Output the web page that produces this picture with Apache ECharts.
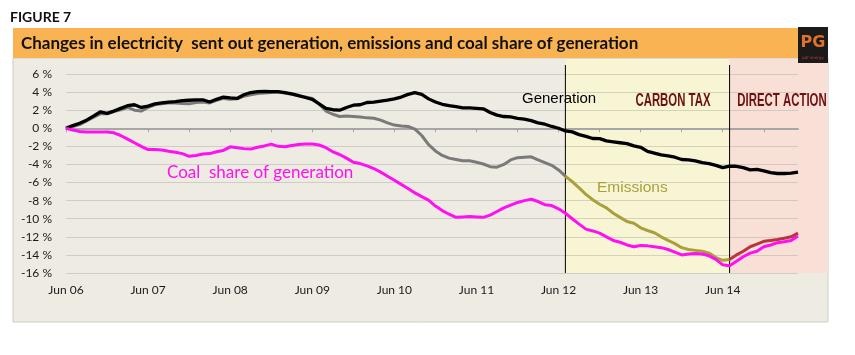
<!DOCTYPE html>
<html>
<head>
<meta charset="utf-8">
<script src="https://cdn.jsdelivr.net/npm/echarts@6/dist/echarts.min.js"></script>
<style>
html,body{margin:0;padding:0;background:#fff;}
#c{width:855px;height:355px;}
</style>
</head>
<body>
<div id="c"></div>
<script>
// ---- data (monthly, Jun 2006 .. May 2015), % change ----
var months = [];
var monNames = ['Jan','Feb','Mar','Apr','May','Jun','Jul','Aug','Sep','Oct','Nov','Dec'];
for (var k = 0; k < 108; k++) {
  var m = (5 + k) % 12, y = 6 + Math.floor((5 + k) / 12);
  months.push(monNames[m] + ' ' + (y < 10 ? '0' + y : '' + y));
}
var generation = [
  0, 0.3, 0.55, 0.9, 1.35, 1.8, 1.65, 1.9, 2.2, 2.5, 2.6, 2.3,
  2.45, 2.7, 2.8, 2.9, 2.95, 3.05, 3.1, 3.15, 3.15, 2.9, 3.2, 3.45,
  3.35, 3.3, 3.7, 3.95, 4.05, 4.07, 4.05, 4.05, 3.95, 3.8, 3.6, 3.4,
  3.2, 2.7, 2.2, 2.05, 2.0, 2.3, 2.55, 2.6, 2.85, 2.9, 3.0, 3.1,
  3.25, 3.45, 3.75, 3.95, 3.75, 3.25, 2.9, 2.65, 2.5, 2.4, 2.25, 2.25,
  2.2, 2.15, 1.75, 1.45, 1.3, 1.25, 1.1, 1.0, 0.85, 0.6, 0.45, 0.2,
  0.0, -0.3, -0.4, -0.7, -0.9, -1.13, -1.15, -1.4, -1.5, -1.6, -1.7, -1.95,
  -2.1, -2.55, -2.75, -2.95, -3.05, -3.2, -3.45, -3.5, -3.6, -3.8, -3.9, -4.1,
  -4.35, -4.18, -4.2, -4.35, -4.6, -4.55, -4.7, -4.9, -5.0, -5.0, -4.95, -4.85
];
var emissions = [
  0, 0.2, 0.4, 0.8, 1.2, 1.6, 1.6, 1.85, 2.05, 2.3, 2.0, 1.9,
  2.3, 2.6, 2.7, 2.8, 2.8, 2.75, 2.7, 2.85, 2.9, 2.8, 3.1, 3.3,
  3.2, 3.25, 3.55, 3.7, 3.85, 3.9, 3.95, 4.0, 3.9, 3.75, 3.6, 3.45,
  3.3, 2.7, 1.9, 1.55, 1.3, 1.35, 1.3, 1.25, 1.15, 1.1, 0.9, 0.6,
  0.35, 0.25, 0.2, -0.1, -0.8, -1.8, -2.5, -3.0, -3.3, -3.45, -3.6, -3.6,
  -3.75, -3.95, -4.25, -4.3, -4.0, -3.5, -3.25, -3.2, -3.15, -3.5, -3.8, -4.1,
  -4.6, -5.3, -5.9, -6.6, -7.3, -7.9, -8.4, -8.8, -9.4, -9.85, -10.3, -10.5,
  -11.0, -11.3, -11.55, -12.0, -12.4, -12.75, -13.2, -13.4, -13.5, -13.6, -13.8, -14.3,
  -14.6, -14.5, -14.0, -13.6, -13.1, -12.8, -12.5, -12.4, -12.3, -12.15, -12.0, -11.6
];
var coalShare = [
  0, -0.2, -0.35, -0.4, -0.4, -0.4, -0.4, -0.5, -0.8, -1.2, -1.6, -2.0,
  -2.35, -2.35, -2.4, -2.55, -2.65, -2.8, -3.1, -3.0, -2.85, -2.8, -2.6, -2.45,
  -2.05, -2.15, -2.25, -2.3, -2.1, -1.95, -1.75, -2.0, -2.05, -1.9, -1.8, -1.75,
  -1.75, -1.85, -2.15, -2.6, -2.9, -3.3, -3.75, -3.9, -4.15, -4.45, -4.85, -5.3,
  -5.75, -6.2, -6.65, -7.15, -7.55, -7.95, -8.6, -9.1, -9.5, -9.85, -9.8, -9.75,
  -9.8, -9.85, -9.6, -9.2, -8.8, -8.5, -8.2, -8.0, -7.85, -8.1, -8.45, -8.55,
  -8.9, -9.4, -10.0, -10.6, -11.15, -11.35, -11.6, -12.0, -12.4, -12.6, -12.9, -13.1,
  -12.95, -13.0, -13.1, -13.2, -13.4, -13.7, -14.0, -13.9, -13.85, -13.9, -14.1, -14.5,
  -15.1, -15.2, -14.7, -14.2, -13.8, -13.6, -13.1, -12.9, -12.65, -12.55, -12.4, -11.9
];
var carbonTaxStart = 73;   // Jul 12
var directActionStart = 97; // Jul 14
var yTicks = {min: -16, max: 6, interval: 2};

var emisPre = emissions.map(function (v, i) { return i <= carbonTaxStart ? v : '-'; });
var emisTax = emissions.map(function (v, i) { return (i >= carbonTaxStart && i <= directActionStart) ? v : '-'; });
var emisDA = emissions.map(function (v, i) { return i >= directActionStart ? v : '-'; });

var chart = echarts.init(document.getElementById('c'), null, {renderer: 'canvas'});
var FONT = 'Lato, "Open Sans", sans-serif';
var COND = 'bold 19px "Liberation Sans", Arial, sans-serif';

var option = {
  backgroundColor: '#ffffff',
  animation: false,
  grid: {left: 66, right: 57, top: 74, bottom: 82},
  xAxis: {
    type: 'category', data: months, boundaryGap: false,
    axisLine: {lineStyle: {color: '#A6A6A6', width: 2}},
    axisTick: {interval: function (i) { return i % 6 === 0; }, length: 4, lineStyle: {color: '#A6A6A6'}},
    axisLabel: {interval: function (i) { return i % 12 === 0; }, margin: 11, color: '#1a1a1a', fontSize: 12, fontFamily: FONT},
    splitLine: {show: false}
  },
  yAxis: {
    type: 'value', min: yTicks.min, max: yTicks.max, interval: yTicks.interval,
    axisLine: {show: false}, axisTick: {show: false},
    axisLabel: {margin: 14, color: '#1a1a1a', fontSize: 12, fontFamily: FONT, formatter: function (v) { return v + ' %'; }},
    splitLine: {lineStyle: {color: 'rgba(150,150,150,0.35)', width: 1}}
  },
  series: [
    {name: 'Generation', type: 'line', data: generation, symbol: 'none', lineStyle: {color: '#000000', width: 3.3}, z: 3},
    {name: 'Emissions', type: 'line', data: emisPre, symbol: 'none', lineStyle: {color: '#7a7a7a', width: 3}, z: 2},
    {name: 'Emissions (carbon tax)', type: 'line', data: emisTax, symbol: 'none', lineStyle: {color: '#A9A03C', width: 3}, z: 2},
    {name: 'Emissions (direct action)', type: 'line', data: emisDA, symbol: 'none', lineStyle: {color: '#B7363A', width: 3}, z: 2},
    {name: 'Coal share of generation', type: 'line', data: coalShare, symbol: 'none', lineStyle: {color: '#FF10F0', width: 3}, z: 4}
  ]
};
chart.setOption(option);

var xT = chart.convertToPixel({xAxisIndex: 0}, carbonTaxStart);
var xD = chart.convertToPixel({xAxisIndex: 0}, directActionStart);
var yBottom = chart.convertToPixel({yAxisIndex: 0}, yTicks.min);

chart.setOption({
  graphic: [
    {type: 'rect', z: -10, shape: {x: 13, y: 58, width: 815, height: 264}, style: {fill: '#EEEBE2', stroke: '#CFCCC4', lineWidth: 1}},
    {type: 'rect', z: -9, shape: {x: xT, y: 59, width: xD - xT, height: yBottom - 59}, style: {fill: '#F8F5D5'}},
    {type: 'rect', z: -9, shape: {x: xD, y: 59, width: 828 - xD, height: yBottom - 59}, style: {fill: '#F9E0D6'}},
    {type: 'line', z: 1, shape: {x1: xT, y1: 65, x2: xT, y2: yBottom}, style: {stroke: '#000', lineWidth: 1}},
    {type: 'line', z: 1, shape: {x1: xD, y1: 65, x2: xD, y2: yBottom}, style: {stroke: '#000', lineWidth: 1}},
    {type: 'rect', z: -8, shape: {x: 13, y: 28, width: 785, height: 30}, style: {fill: '#F9B352'}},
    {type: 'text', z: 5, x: 10, y: 17, style: {text: 'FIGURE 7', font: 'bold 14px ' + FONT, fill: '#111', textVerticalAlign: 'middle'}},
    {type: 'text', z: 5, x: 21, y: 44, style: {text: 'Changes in electricity  sent out generation, emissions and coal share of generation', font: 'bold 17px ' + FONT, fill: '#111', textVerticalAlign: 'middle'}},
    // logo
    {type: 'rect', z: 5, shape: {x: 798, y: 27, width: 30, height: 36}, style: {fill: '#1b1b1b'}},
    {type: 'text', z: 6, x: 813, y: 43, style: {text: 'PG', font: 'bold 16px "DejaVu Sans"', fill: '#E0712A', textAlign: 'center', textVerticalAlign: 'middle'}},
    {type: 'text', z: 6, x: 813, y: 58, style: {text: 'pdf energy', font: '4px "DejaVu Sans"', fill: '#c0392b', textAlign: 'center', textVerticalAlign: 'middle'}},
    // annotations
    {type: 'text', z: 6, x: 522, y: 99, style: {text: 'Generation', font: '15px "Liberation Sans", Arial, sans-serif', fill: '#000', textVerticalAlign: 'middle'}},
    {type: 'text', z: 6, x: 597, y: 188, style: {text: 'Emissions', font: '15.5px "Liberation Sans", Arial, sans-serif', fill: '#A9A03C', textVerticalAlign: 'middle'}},
    {type: 'text', z: 6, x: 167, y: 173, style: {text: 'Coal  share of generation', font: '17px ' + FONT, fill: '#FF10F0', textVerticalAlign: 'middle'}},
    {type: 'text', z: 6, x: 673, y: 101, scaleX: 0.6, style: {text: 'CARBON TAX', font: COND, fill: '#6E1010', textAlign: 'center', textVerticalAlign: 'middle'}},
    {type: 'text', z: 6, x: 782, y: 101, scaleX: 0.6, style: {text: 'DIRECT ACTION', font: COND, fill: '#6E1010', textAlign: 'center', textVerticalAlign: 'middle'}}
  ]
});
</script>
</body>
</html>
